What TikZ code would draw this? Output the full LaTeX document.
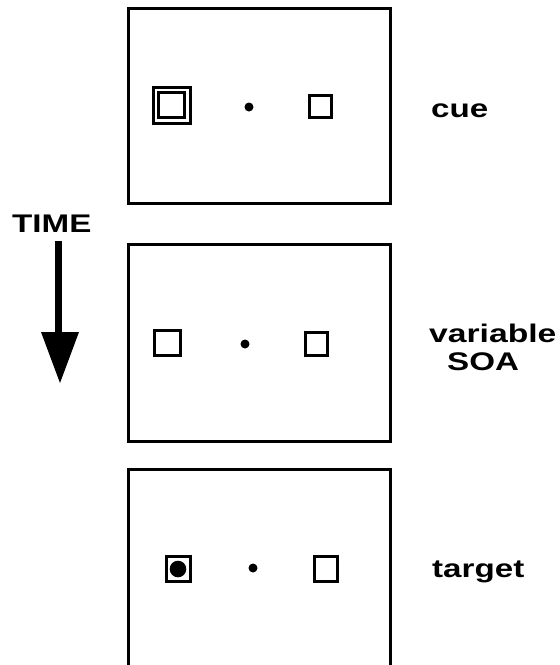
\documentclass[tikz,border=0pt]{standalone}
\usepackage{fontspec}
\setmainfont{Liberation Sans}
\begin{document}
\begin{tikzpicture}[x=1pt,y=-1pt,
  frame/.style={draw=black,line width=3pt},
  marker/.style={draw=black,line width=3pt},
  fixdot/.style={fill=black},
  lbl/.style={font=\bfseries\fontsize{25.5}{30}\selectfont,inner sep=0pt,anchor=base west}]
\useasboundingbox (0,0) rectangle (560,665);
\clip (0,0) rectangle (560,665);

% panel 1: cue display
\draw[frame] (128.5,8.5) rectangle (390.5,203.5);
\draw[marker] (153.5,87.5) rectangle (190.5,123.5);
\draw[marker] (158.8,92.5) rectangle (184.2,117.5);
\fill[fixdot] (249,107) circle (4.5);
\draw[marker] (309.5,95.5) rectangle (331.5,117.5);

% panel 2: blank interval
\draw[frame] (128.5,244.5) rectangle (390.5,441.5);
\draw[marker] (154.5,330.5) rectangle (180.5,355.5);
\fill[fixdot] (245,344) circle (4.5);
\draw[marker] (305.5,332.5) rectangle (327.5,355.5);

% panel 3: target display
\draw[frame] (128.5,469.5) rectangle (390.5,690);
\draw[marker] (166.5,556.5) rectangle (190.5,581.5);
\fill[fixdot] (178,569) circle (8.3);
\fill[fixdot] (253,568) circle (4.5);
\draw[marker] (314.5,556.5) rectangle (337.5,581.5);

% time arrow
\coordinate (tstart) at (58.5,241);
\coordinate (tend) at (60,383);
\fill (55,241) rectangle (62,334);
\fill (41,332) -- (79,332) -- (tend) -- cycle;

% labels
\node[lbl] (time) at (12,232) {\scalebox{1.3}[1]{TIME}};
\node[lbl] (cue) at (431,117) {\scalebox{1.3}[1]{cue}};
\node[lbl] (var) at (429,342) {\scalebox{1.32}[1]{variable}};
\node[lbl] (soa) at (447,370) {\scalebox{1.3}[1]{SOA}};
\node[lbl] (target) at (432,577) {\scalebox{1.3}[1]{target}};
\end{tikzpicture}
\end{document}
